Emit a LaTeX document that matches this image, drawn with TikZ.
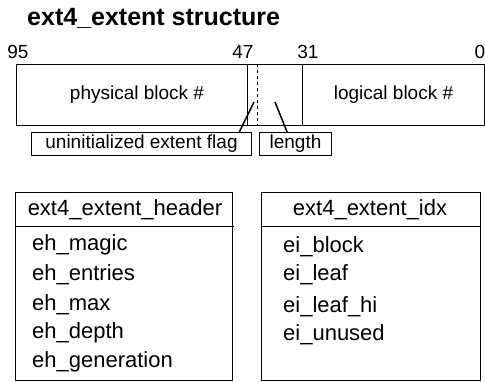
\documentclass[tikz,border=0pt]{standalone}
\usepackage{fontspec}
\setmainfont{Liberation Sans}
\begin{document}
\begin{tikzpicture}[x=1pt, y=-1pt,
    campo/.style={draw, line width=1pt, inner sep=0, anchor=north west,
      minimum height=61pt, font=\fontsize{19}{22}\selectfont},
    etiqueta/.style={draw, line width=1pt, inner sep=0, anchor=north west,
      minimum height=23pt, font=\fontsize{19}{22}\selectfont},
    tabla/.style={draw, line width=1pt, inner sep=0, anchor=north west,
      minimum width=#1, minimum height=188pt},
    cabecera/.style={inner sep=0, font=\fontsize{22}{26}\selectfont},
    miembro/.style={inner sep=0, anchor=west, font=\fontsize{22}{26}\selectfont}]
    \useasboundingbox (0,0) rectangle (485,382);

    % Titulo
    \node[inner sep=0, anchor=west, font=\fontsize{25}{30}\selectfont\bfseries]
      (titulo) at (27,18) {ext4\_extent structure};

    % Numeros de bit
    \node[inner sep=0, font=\fontsize{19}{22}\selectfont] (b95) at (18,52) {95};
    \node[inner sep=0, font=\fontsize{19}{22}\selectfont] (b47) at (243,52) {47};
    \node[inner sep=0, font=\fontsize{19}{22}\selectfont] (b31) at (308,52) {31};
    \node[inner sep=0, font=\fontsize{19}{22}\selectfont] (b0) at (480,52) {0};

    % Campos de la extension
    \node[campo, minimum width=231pt] (phys) at (16,64) {\hspace{10pt}physical block \#};
    \node[campo, minimum width=55pt] (mid) at (247,64) {};
    \node[campo, minimum width=182pt] (logical) at (302,64) {\raisebox{5pt}{logical block \#}};
    \draw[line width=1pt, dashed] ([xshift=10pt]mid.north west) -- ([xshift=10pt]mid.south west);

    % Etiquetas con linea
    \node[etiqueta, minimum width=220pt] (flagbox) at (31,132) {uninitialized extent flag};
    \node[etiqueta, minimum width=72pt] (lenbox) at (259,132) {length};
    \coordinate (flagpt) at (254,102);
    \coordinate (lenpt) at (275,102);
    \draw[line width=1.5pt] (flagpt) -- (flagbox.7);
    \draw[line width=1.5pt] (lenpt) -- (lenbox.125);

    % ext4_extent_header
    \node[tabla=217pt] (header) at (15,192) {};
    \draw[line width=1pt] (15,227) -- (234,227);
    \node[cabecera] (headertit) at (125,210) {ext4\_extent\_header};
    \node[miembro] (eh1) at (32,245) {eh\_magic};
    \node[miembro] (eh2) at (32,275) {eh\_entries};
    \node[miembro] (eh3) at (32,305) {eh\_max};
    \node[miembro] (eh4) at (32,333) {eh\_depth};
    \node[miembro] (eh5) at (32,362) {eh\_generation};

    % ext4_extent_idx
    \node[tabla=219pt] (idx) at (261,192) {};
    \draw[line width=1pt] (261,227) -- (480,227);
    \node[cabecera] (idxtit) at (370,210) {ext4\_extent\_idx};
    \node[miembro] (ei1) at (283,247) {ei\_block};
    \node[miembro] (ei2) at (283,275) {ei\_leaf};
    \node[miembro] (ei3) at (283,307) {ei\_leaf\_hi};
    \node[miembro] (ei4) at (283,335) {ei\_unused};
  \end{tikzpicture}
\end{document}
